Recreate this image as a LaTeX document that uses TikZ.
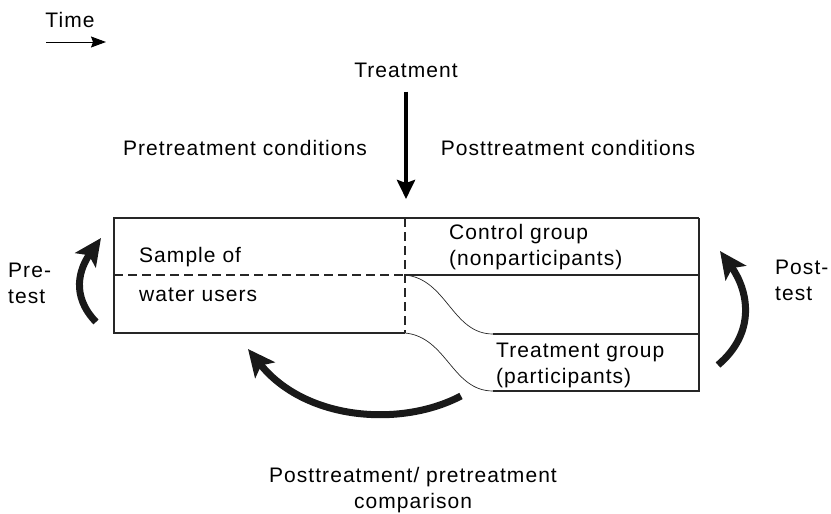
\documentclass[tikz,border=0pt]{standalone}
\usepackage{fontspec}
\setmainfont[LetterSpace=5]{Liberation Sans}
\usetikzlibrary{arrows.meta}

\begin{document}
\begin{tikzpicture}[x=1pt, y=-1pt,
	txt/.style={font=\fontsize{21}{26}\selectfont, inner sep=0pt},
	box/.style={draw=black!85, line width=1.2pt},
	split/.style={draw=black!85, line width=1.2pt, dash pattern=on 9pt off 5pt},
	flow/.style={draw=black!85, line width=0.7pt},
	timeline/.style={draw, line width=1pt, -{Stealth[length=15pt,width=11pt,inset=2pt]}},
	treatline/.style={draw, line width=4pt, -{Stealth[length=19pt,width=18pt,inset=3pt]}},
	testline/.style={draw=black!90, line width=7pt, -{Stealth[length=27pt,width=25pt,inset=6pt]}},
	]
	\useasboundingbox (0,0) rectangle (831,514);

	% labels
	\node[txt] (time) at (70,20) {Time};
	\node[txt] (treat) at (406,70) {Treatment};
	\node[txt] (pre) at (245,148) {Pretreatment conditions};
	\node[txt] (post) at (568,148) {Posttreatment conditions};
	\node[txt, anchor=west] (sample) at (139,257) {Sample of};
	\node[txt, anchor=west] (users) at (139,295) {water users};
	\node[txt, anchor=west, align=left] (ctrl) at (449,247) {Control group\\(nonparticipants)};
	\node[txt, anchor=west, align=left] (part) at (496,365) {Treatment group\\(participants)};
	\node[txt, anchor=west, align=left] (pretest) at (8,283) {Pre-\\test};
	\node[txt, anchor=west, align=left] (posttest) at (775,280) {Post-\\test};
	\node[txt, align=center] (cmp) at (413,490) {Posttreatment/ pretreatment\\comparison};

	% sample and the two groups
	\draw[box] (699,218) -- (114,218) -- (114,333) -- (405,333);
	\draw[split] (405,218) -- (405,333);
	\draw[split] (114,275) -- (405,275);
	\draw[box] (405,275) -- (699,275);
	\draw[box] (699,218) -- (699,391) -- (493,391);
	\draw[box] (493,334) -- (699,334);
	\draw[flow] (405,275) .. controls (447,279) and (452,334) .. (493,334);
	\draw[flow] (405,333) .. controls (447,337) and (452,391) .. (493,391);

	% arrows
	\coordinate (time-a) at (46,42);
	\coordinate (time-b) at (106,42);
	\coordinate (box-top) at (406,218);
	\coordinate (pre-a) at (96,322);
	\coordinate (pre-b) at (101,238);
	\coordinate (post-a) at (718,365);
	\coordinate (post-b) at (720,251);
	\coordinate (cmp-a) at (461,396);
	\coordinate (cmp-b) at (248,349);

	\path [timeline] (time-a) -- (time-b);
	\path [treatline, shorten <=14pt, shorten >=19pt] (treat.south) -- (box-top);
	\path [testline] (pre-a) .. controls (70,295) and (80,268) .. (pre-b);
	\path [testline] (post-a) .. controls (757,332) and (748,290) .. (post-b);
	\path [testline] (cmp-a) .. controls (400,428) and (305,420) .. (cmp-b);
\end{tikzpicture}
\end{document}
